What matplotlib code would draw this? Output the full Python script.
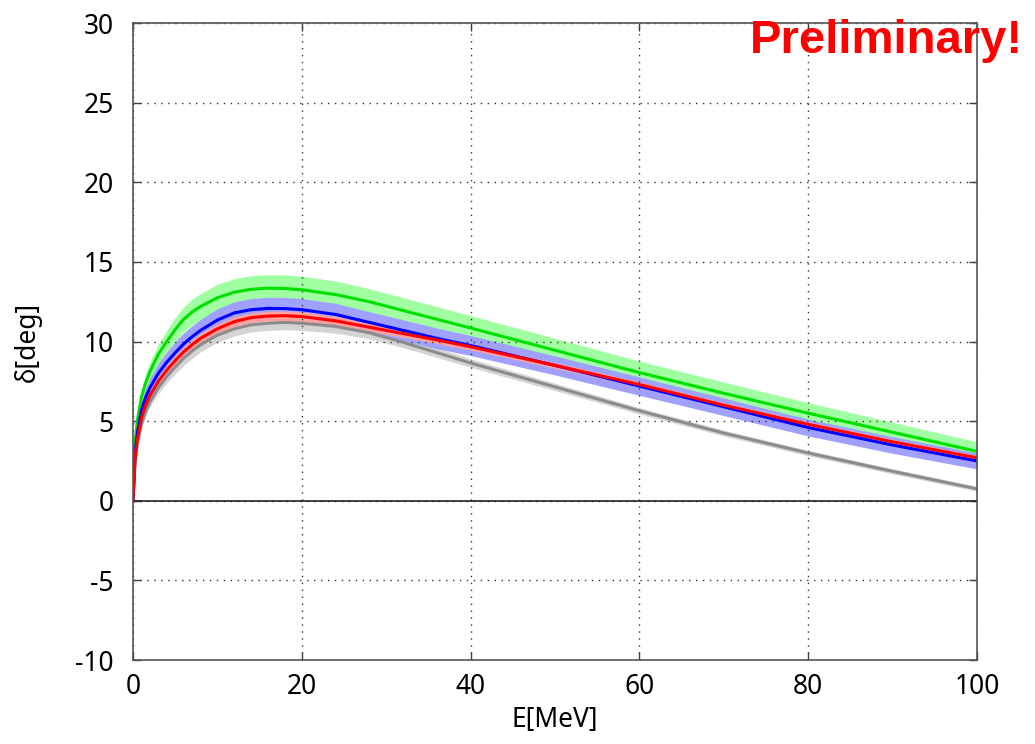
import numpy as np
import matplotlib.pyplot as plt

plt.rcParams['font.family'] = ['Noto Sans', 'DejaVu Sans']
plt.rcParams['axes.unicode_minus'] = False

# energy grid [MeV]
E = [0, 0.25, 0.5, 1, 1.5, 2, 3, 4, 5, 6, 7, 8, 10, 12, 14, 16, 18, 20,
     24, 28, 32, 36, 40, 50, 60, 70, 80, 90, 100]

# phase shifts [deg], central values
green = [0, 3.6, 5.0, 6.5, 7.4, 8.1, 9.2, 10.0, 10.75, 11.4, 11.85, 12.2, 12.75, 13.1, 13.28, 13.35, 13.33, 13.25,
         12.95, 12.5, 11.95, 11.4, 10.85, 9.45, 8.05, 6.75, 5.5, 4.3, 3.1]
blue = [0, 3.0, 4.2, 5.7, 6.5, 7.1, 8.0, 8.7, 9.3, 9.85, 10.3, 10.7, 11.35, 11.8, 12.0, 12.08, 12.07, 12.0,
        11.7, 11.2, 10.7, 10.2, 9.75, 8.5, 7.2, 5.9, 4.6, 3.5, 2.5]
red = [0, 2.7, 3.8, 5.2, 6.0, 6.6, 7.5, 8.2, 8.8, 9.35, 9.8, 10.2, 10.8, 11.25, 11.5, 11.6, 11.62, 11.57,
       11.3, 10.9, 10.5, 10.1, 9.67, 8.5, 7.3, 6.0, 4.8, 3.7, 2.7]
gray = [0, 2.4, 3.5, 4.8, 5.6, 6.2, 7.1, 7.8, 8.4, 8.95, 9.4, 9.8, 10.4, 10.8, 11.05, 11.15, 11.2, 11.15,
        10.95, 10.55, 9.95, 9.3, 8.65, 7.15, 5.65, 4.25, 3.0, 1.85, 0.75]

# band half widths [deg]
green_err = [0, 0.3, 0.4, 0.5, 0.55, 0.6, 0.65, 0.7, 0.75, 0.78, 0.8, 0.82, 0.85, 0.85, 0.85, 0.85, 0.85, 0.85,
             0.85, 0.82, 0.8, 0.8, 0.78, 0.75, 0.72, 0.7, 0.66, 0.63, 0.6]
blue_err = [0, 0.3, 0.4, 0.5, 0.55, 0.6, 0.62, 0.65, 0.68, 0.7, 0.7, 0.7, 0.7, 0.7, 0.7, 0.7, 0.7, 0.7,
            0.7, 0.68, 0.66, 0.65, 0.63, 0.6, 0.58, 0.55, 0.53, 0.52, 0.5]
red_err = [0, 0.1, 0.15, 0.2, 0.22, 0.25, 0.28, 0.3, 0.3, 0.3, 0.3, 0.3, 0.3, 0.3, 0.3, 0.3, 0.3, 0.3,
           0.28, 0.26, 0.24, 0.22, 0.2, 0.18, 0.16, 0.15, 0.15, 0.15, 0.15]
gray_err = [0, 0.15, 0.2, 0.25, 0.28, 0.3, 0.35, 0.4, 0.42, 0.45, 0.45, 0.45, 0.45, 0.45, 0.45, 0.45, 0.45, 0.45,
            0.42, 0.38, 0.33, 0.3, 0.27, 0.23, 0.2, 0.18, 0.17, 0.16, 0.15]

xticks = [0, 20, 40, 60, 80, 100]
yticks = [-10, -5, 0, 5, 10, 15, 20, 25, 30]

E = np.array(E)
fig = plt.figure(figsize=(10.35, 7.44), dpi=100)
ax = fig.add_axes([0.1285, 0.1129, 0.8155, 0.8561])

# bands first, then the lines on top
bands = [(gray, gray_err, '#d4d4d4'),
         (green, green_err, '#a0ffa0'),
         (blue, blue_err, '#a0a0ff'),
         (red, red_err, '#ffa0a0')]
for c, e, col in bands:
    c = np.array(c)
    e = np.array(e)
    ax.fill_between(E, c - e, c + e, color=col, lw=0)

ax.plot(E, gray, color='#8c8c8c', lw=2.2)
ax.plot(E, green, color='#00e000', lw=2.2)
ax.plot(E, blue, color='#0000ff', lw=2.2)
ax.plot(E, red, color='#ff0000', lw=2.2)

ax.axhline(0, color='#202020', lw=1.2)

ax.set_xlim(0, 100)
ax.set_ylim(-10, 30)
ax.set_xticks(xticks)
ax.set_yticks(yticks)
ax.tick_params(direction='in', length=6, width=1, top=True, right=True,
               labelsize=19, colors='#404040', labelcolor='black')
ax.tick_params(axis='x', pad=9)
ax.tick_params(axis='y', pad=14)
ax.grid(True, color='#333333', linestyle=(0, (1, 4)), lw=1)
for s in ax.spines.values():
    s.set_color('#555555')
    s.set_linewidth(1.2)

ax.set_xlabel('E[MeV]', fontsize=19)
ax.set_ylabel('δ[deg]', fontsize=19)
ax.xaxis.set_label_coords(0.5, -0.072)
ax.yaxis.set_label_coords(-0.108, 0.5)

fig.text(0.988, 0.945, 'Preliminary!', color='red', fontsize=34,
         fontweight='bold', family='Liberation Sans', ha='right', va='center')

fig.savefig('out.png', dpi=100)
